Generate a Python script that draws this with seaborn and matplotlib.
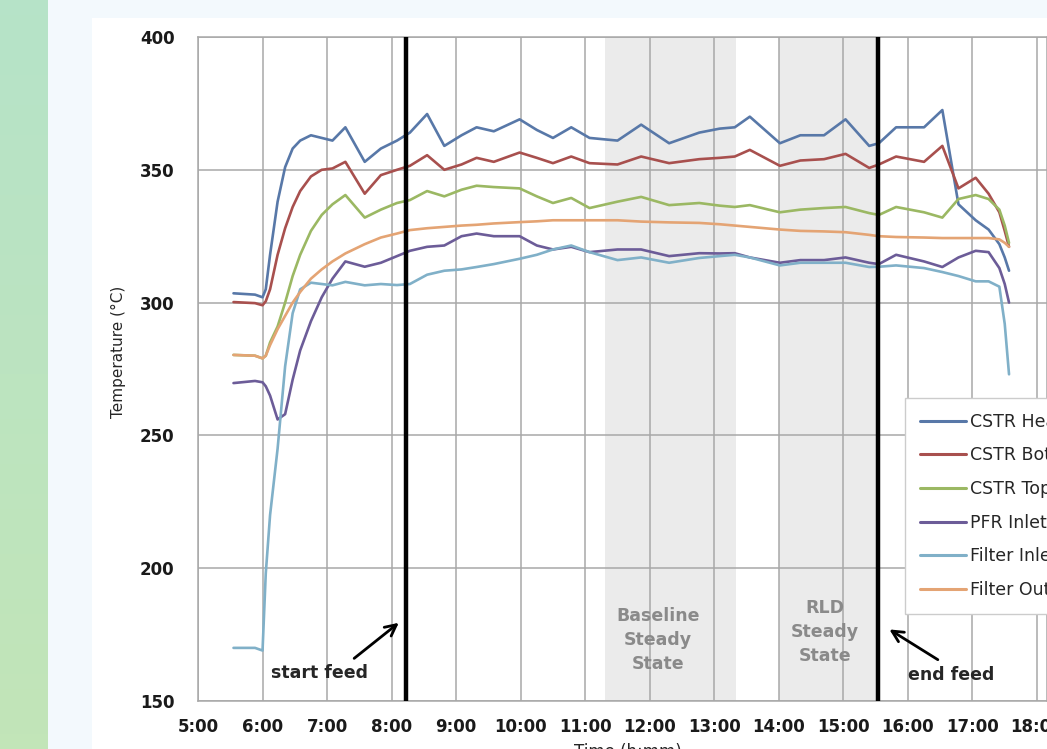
import numpy as np
import pandas as pd
import matplotlib
matplotlib.use("Agg")
import matplotlib.pyplot as plt
from matplotlib.colors import LinearSegmentedColormap
from matplotlib.patches import Rectangle
import seaborn as sns

# sample times (h:mm) shared by all series
times = ["5:33", "5:53", "6:00", "6:03", "6:07", "6:14", "6:21", "6:28", "6:35", "6:45",
         "6:55", "7:05", "7:17", "7:35", "7:50", "8:05", "8:17", "8:33", "8:49", "9:05",
         "9:19", "9:35", "9:59", "10:15", "10:30", "10:47", "11:04", "11:30", "11:52", "12:18",
         "12:46", "13:05", "13:19", "13:33", "14:01", "14:20", "14:42", "15:02", "15:24", "15:33",
         "15:49", "16:15", "16:32", "16:47", "17:03", "17:15", "17:25", "17:30", "17:34"]

cstr_head = [303.5, 303, 302, 305, 318, 338, 351, 358, 361, 363,
             362, 361, 366, 353, 358, 361, 364, 371, 359, 363,
             366, 364.5, 369, 365, 362, 366, 362, 361, 367, 360,
             364, 365.5, 366, 370, 360, 363, 363, 369, 359, 360,
             366, 366, 372.5, 337, 331, 327.5, 322, 317, 312]
cstr_bottom = [300.2, 299.8, 299, 300.5, 305, 318, 328, 336, 342, 347.5,
               350, 350.5, 353, 341, 348, 350, 351.5, 355.5, 350, 352,
               354.5, 353, 356.5, 354.5, 352.5, 355, 352.5, 352, 355, 352.5,
               354, 354.5, 355, 357.5, 351.5, 353.5, 354, 356, 350.7, 352,
               355, 353, 359, 343, 347, 341, 334, 327, 321]
cstr_top = [280.3, 280, 279, 280, 285, 291, 300, 310, 318, 327,
            333, 337, 340.5, 332, 335, 337.5, 338.6, 342, 340, 342.5,
            344, 343.5, 343, 340, 337.5, 339.4, 335.6, 338, 339.8, 336.7,
            337.5, 336.5, 336, 336.7, 334, 335, 335.6, 336, 333.7, 333,
            336, 334, 332, 339, 340.5, 339, 335, 329, 322.5]
pfr_inlet = [269.7, 270.5, 270, 268.5, 265, 256, 258, 271, 282, 293,
             302, 309, 315.5, 313.5, 315, 317.5, 319.5, 321, 321.5, 325,
             326, 325, 325, 321.5, 320, 321, 319, 320, 320, 317.5,
             318.6, 318.5, 318.6, 317, 315, 316, 316, 317, 315, 314.5,
             318, 315.5, 313.4, 317, 319.5, 319, 313, 307, 300]
filter_inlet = [170, 170, 169, 198, 220, 245, 276, 296, 305, 307.5,
                307, 306.5, 307.8, 306.5, 307, 306.6, 307, 310.5, 312, 312.5,
                313.4, 314.5, 316.5, 318, 320, 321.5, 319, 316, 317, 315,
                316.8, 317.5, 318, 317, 314, 315, 315, 315, 313.4, 313.5,
                314, 313, 311.5, 310, 308, 308, 306, 292, 273]
filter_outlet = [280.3, 280, 279, 280, 284, 290, 295, 300, 304, 309,
                 312.5, 315.5, 318.5, 322, 324.5, 326, 327.3, 328, 328.5, 329,
                 329.3, 329.8, 330.3, 330.6, 331, 331, 331, 331, 330.5, 330.2,
                 330, 329.5, 329, 328.5, 327.5, 327, 326.8, 326.5, 325.5, 325,
                 324.7, 324.5, 324.3, 324.3, 324.3, 324.3, 323.8, 322.5, 321]

series_names = ["CSTR Head", "CSTR Bottom", "CSTR Top", "PFR Inlet", "Filter Inlet", "Filter Outlet"]
series_values = [cstr_head, cstr_bottom, cstr_top, pfr_inlet, filter_inlet, filter_outlet]
colors = ["#5878a8", "#a8504e", "#9bb863", "#6c5c98", "#80b0c8", "#e4a474"]

start_feed = "8:13"
end_feed = "15:32"
baseline_window = ("11:18", "13:20")
rld_window = ("14:00", "15:32")


def to_hours(t):
    h, m = t.split(":")
    return int(h) + int(m) / 60.0


hours = [to_hours(t) for t in times]
df = pd.concat([pd.DataFrame({"hours": hours, "temp": vals, "series": name})
                for name, vals in zip(series_names, series_values)], ignore_index=True)

sns.set_style("white")
plt.rcParams["font.family"] = ["DejaVu Sans"]

W, H = 1047, 749
fig = plt.figure(figsize=(W / 100, H / 100), dpi=100, facecolor="#f3f9fd")

# green strip on the left
gax = fig.add_axes([0, 0, 48 / W, 1])
gcmap = LinearSegmentedColormap.from_list("g", ["#b6e3c8", "#c2e5b8"])
gax.imshow(np.linspace(0, 1, 50).reshape(-1, 1), cmap=gcmap, aspect="auto")
gax.axis("off")

# white card behind the chart
fig.add_artist(Rectangle((92 / W, 0), 1 - 92 / W, (H - 18) / H, transform=fig.transFigure,
                         facecolor="white", edgecolor="none", zorder=0))

ax = fig.add_axes([198 / W, 48 / H, (W - 198) / W, 664 / H])
ax.set_facecolor("white")

sns.lineplot(data=df, x="hours", y="temp", hue="series", hue_order=series_names,
             palette=dict(zip(series_names, colors)), estimator=None, sort=False,
             linewidth=1.9, ax=ax)

ax.axvspan(to_hours(baseline_window[0]), to_hours(baseline_window[1]), color="#ebebeb", lw=0, zorder=0.2)
ax.axvspan(to_hours(rld_window[0]), to_hours(rld_window[1]), color="#ebebeb", lw=0, zorder=0.2)
ax.axvline(to_hours(start_feed), color="black", lw=3.2, zorder=3)
ax.axvline(to_hours(end_feed), color="black", lw=3.2, zorder=3)

ax.set_xlim(5, 18.155)
ax.set_ylim(150, 400)
ax.set_xticks(range(5, 19))
ax.set_xticklabels([f"{h}:00" for h in range(5, 19)])
ax.set_yticks(range(150, 401, 50))
ax.set_axisbelow(True)
ax.grid(True, color="#a8a8a8", lw=1.1)
for s in ax.spines.values():
    s.set_color("#a8a8a8")
    s.set_linewidth(1.1)
ax.tick_params(axis="both", colors="#a8a8a8", labelcolor="#1a1a1a", labelsize=12, width=1.1)
ax.tick_params(axis="x", length=5, pad=7)
ax.tick_params(axis="y", length=5, pad=12)
for lab in ax.get_xticklabels() + ax.get_yticklabels():
    lab.set_fontweight("bold")
ax.set_xlabel("")
ax.set_ylabel("")

# annotations
ax.text(6.89, 160.5, "start feed", ha="center", va="center", fontsize=12.5, fontweight="bold")
ax.annotate("", xy=(8.145, 180.1), xytext=(7.386, 165.4),
            arrowprops=dict(arrowstyle="->", color="black", lw=2, mutation_scale=20))
ax.text(16.667, 159.8, "end feed", ha="center", va="center", fontsize=12.5, fontweight="bold")
ax.annotate("", xy=(15.676, 177.5), xytext=(16.50, 165.0),
            arrowprops=dict(arrowstyle="->", color="black", lw=2, mutation_scale=20))
ax.text(12.127, 172.9, "Baseline\nSteady\nState", ha="center", va="center", fontsize=12.5,
        fontweight="bold", color="#8a8a8a", linespacing=1.45)
ax.text(14.715, 176.0, "RLD\nSteady\nState", ha="center", va="center", fontsize=12.5,
        fontweight="bold", color="#8a8a8a", linespacing=1.45)

handles, labels = ax.get_legend_handles_labels()
leg = ax.legend(handles, labels, loc="upper left", bbox_to_anchor=(0.8327, 0.4563),
                frameon=True, fancybox=False, edgecolor="#cccccc", framealpha=1,
                fontsize=12.5, handlelength=2.65, handletextpad=0.23, labelspacing=0.9,
                borderpad=0.85, borderaxespad=0)
for line in leg.get_lines():
    line.set_linewidth(2.2)

fig.text(118 / W, 1 - 352 / H, "Temperature (°C)", rotation=90, ha="center", va="center", fontsize=11)
fig.text(628 / W, 1 - 743 / H, "Time (h:mm)", ha="center", va="top", fontsize=12)

fig.savefig("out.png", dpi=100, facecolor=fig.get_facecolor())
